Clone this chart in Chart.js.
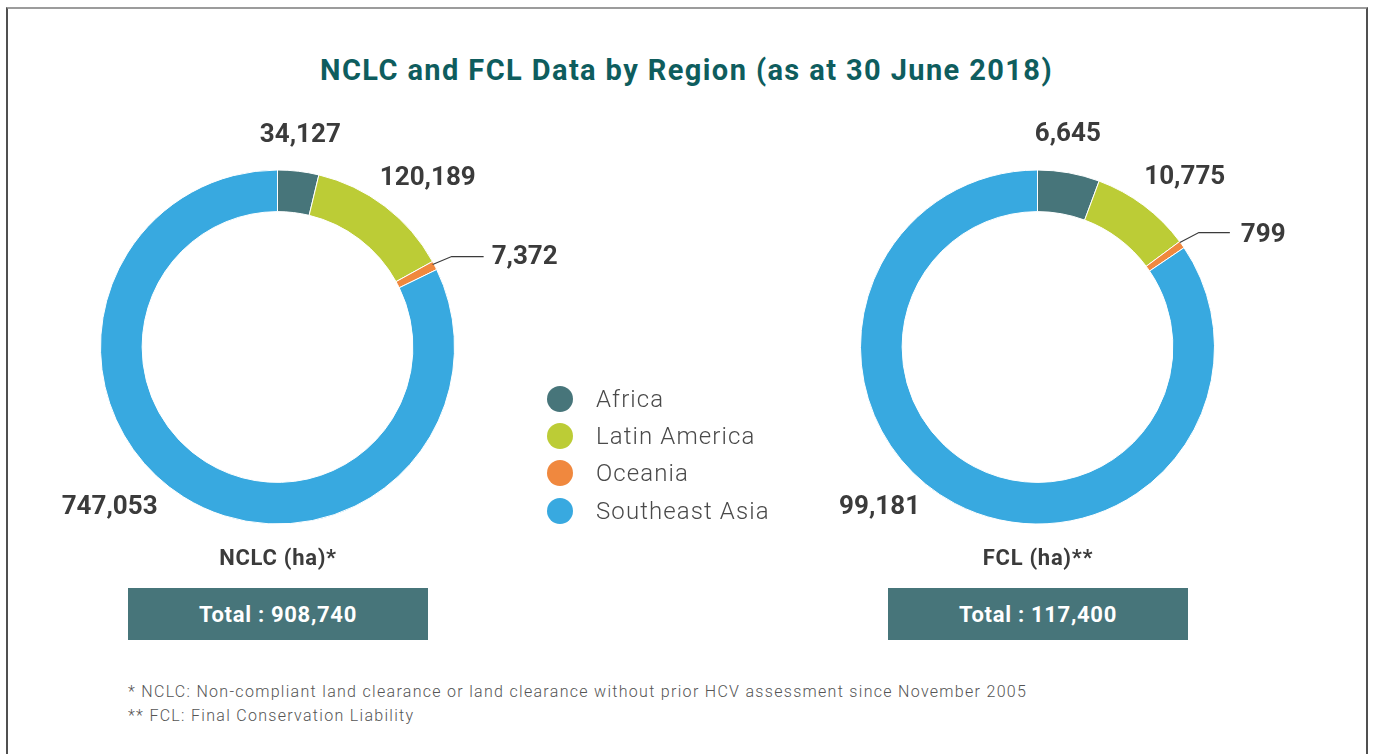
<!DOCTYPE html>
<html>
<head>
<meta charset="utf-8">
<script src="https://cdn.jsdelivr.net/npm/chart.js@4"></script>
<style>
  html, body { margin:0; padding:0; background:#fff; }
  body { width:1373px; height:754px; position:relative; overflow:hidden; font-family: Roboto, "Noto Sans", sans-serif; }
  #frame { position:absolute; left:6px; top:7px; width:1362px; height:760px; border-top:2px solid #9c9c9c; border-left:2px solid #505050; border-right:2px solid #505050; box-sizing:border-box; }
  #title { position:absolute; left:0; width:1373px; top:53px; text-align:center; font-weight:700; font-size:29px; color:#0e5d5e; letter-spacing:1.4px; }
  .cv { position:absolute; top:120px; width:580px; height:440px; }
  #legend { position:absolute; left:547px; top:380px; }
  .lg { height:37.3px; display:flex; align-items:center; }
  .dot { width:26px; height:26px; border-radius:50%; margin-right:23px; }
  .lt { font-size:24px; font-weight:300; color:#4a4a4a; letter-spacing:1.1px; }
  .sub { position:absolute; top:545px; width:300px; text-align:center; font-weight:700; font-size:22px; color:#3b3b3b; letter-spacing:0.7px; }
  .tot { position:absolute; top:588px; width:300px; height:52px; background:#47757a; color:#fff; font-weight:700; font-size:22px; letter-spacing:0.7px; display:flex; align-items:center; justify-content:center; }
  #notes { position:absolute; left:128px; top:680px; font-size:16px; font-weight:300; color:#555; line-height:24px; letter-spacing:1.3px; }
</style>
</head>
<body>
<div id="frame"></div>
<div id="title">NCLC and FCL Data by Region (as at 30 June 2018)</div>
<canvas id="c1" class="cv" style="left:0px"></canvas>
<canvas id="c2" class="cv" style="left:760px"></canvas>
<div id="legend"></div>
<div class="sub" style="left:128px" id="s1"></div>
<div class="sub" style="left:888px" id="s2"></div>
<div class="tot" style="left:128px" id="t1"></div>
<div class="tot" style="left:888px" id="t2"></div>
<div id="notes"></div>
<script>
const categories = ['Africa', 'Latin America', 'Oceania', 'Southeast Asia'];
const nclcValues = [34127, 120189, 7372, 747053];
const fclValues = [6645, 10775, 799, 99181];
const chartNames = ['NCLC (ha)*', 'FCL (ha)**'];
const totals = [908740, 117400];
const chartTitle = 'NCLC and FCL Data by Region (as at 30 June 2018)';
const footnotes = [
  '* NCLC: Non-compliant land clearance or land clearance without prior HCV assessment since November 2005',
  '** FCL: Final Conservation Liability'
];
const colors = ['#47757a', '#bccc36', '#f0883e', '#38a9e0'];

const fmt = v => v.toLocaleString('en-US');

document.getElementById('title').textContent = chartTitle;
document.getElementById('legend').innerHTML = categories.map((c, i) =>
  '<div class="lg"><div class="dot" style="background:' + colors[i] + '"></div><span class="lt">' + c + '</span></div>').join('');
document.getElementById('s1').textContent = chartNames[0];
document.getElementById('s2').textContent = chartNames[1];
document.getElementById('t1').textContent = 'Total : ' + fmt(totals[0]);
document.getElementById('t2').textContent = 'Total : ' + fmt(totals[1]);
document.getElementById('notes').innerHTML = footnotes.map(f => '<div>' + f + '</div>').join('');

// label placement style: offsets from the outer midpoint of each arc
const labelStyles = {
  c1: [
    { dx: 2, dy: -36 },
    { dx: 43, dy: -28 },
    { leader: [[-2, -1], [17, -9], [49, -9]], dx: 57, dy: -8, align: 'left' },
    { dx: -74, dy: 10 }
  ],
  c2: [
    { dx: -1, dy: -38 },
    { dx: 41, dy: -28 },
    { leader: [[-2, -2], [17, -12], [48, -12]], dx: 59, dy: -9, align: 'left' },
    { dx: -75, dy: 4 }
  ]
};

const arcLabels = {
  id: 'arcLabels',
  afterDatasetsDraw(chart) {
    const ctx = chart.ctx;
    const meta = chart.getDatasetMeta(0);
    const data = chart.data.datasets[0].data;
    const styles = labelStyles[chart.canvas.id];
    ctx.save();
    meta.data.forEach((arc, i) => {
      const p = arc.getProps(['x', 'y', 'startAngle', 'endAngle', 'outerRadius'], true);
      const mid = (p.startAngle + p.endAngle) / 2;
      const ax = p.x + Math.cos(mid) * p.outerRadius;
      const ay = p.y + Math.sin(mid) * p.outerRadius;
      const s = styles[i];
      if (s.leader) {
        ctx.beginPath();
        ctx.strokeStyle = '#3b3b3b';
        ctx.lineWidth = 1.2;
        s.leader.forEach((pt, k) => {
          if (k === 0) ctx.moveTo(ax + pt[0], ay + pt[1]);
          else ctx.lineTo(ax + pt[0], ay + pt[1]);
        });
        ctx.stroke();
      }
      ctx.fillStyle = '#3b3b3b';
      ctx.font = '700 26px Roboto, "Noto Sans", sans-serif';
      ctx.textAlign = s.align || 'center';
      ctx.textBaseline = 'middle';
      ctx.fillText(fmt(data[i]), ax + s.dx, ay + s.dy);
    });
    ctx.restore();
  }
};

function makeChart(id, values) {
  return new Chart(document.getElementById(id), {
    type: 'doughnut',
    data: {
      labels: categories,
      datasets: [{
        data: values,
        backgroundColor: colors,
        borderColor: '#ffffff',
        borderWidth: 1,
        hoverOffset: 0
      }]
    },
    options: {
      responsive: false,
      animation: false,
      events: [],
      radius: 177,
      cutout: 135,
      layout: { padding: { left: 100, right: 125, top: 50, bottom: 36 } },
      plugins: { legend: { display: false }, tooltip: { enabled: false }, title: { display: false } }
    },
    plugins: [arcLabels]
  });
}
['c1', 'c2'].forEach(id => {
  const c = document.getElementById(id);
  c.width = 580; c.height = 440;
});
makeChart('c1', nclcValues);
makeChart('c2', fclValues);
</script>
</body>
</html>
